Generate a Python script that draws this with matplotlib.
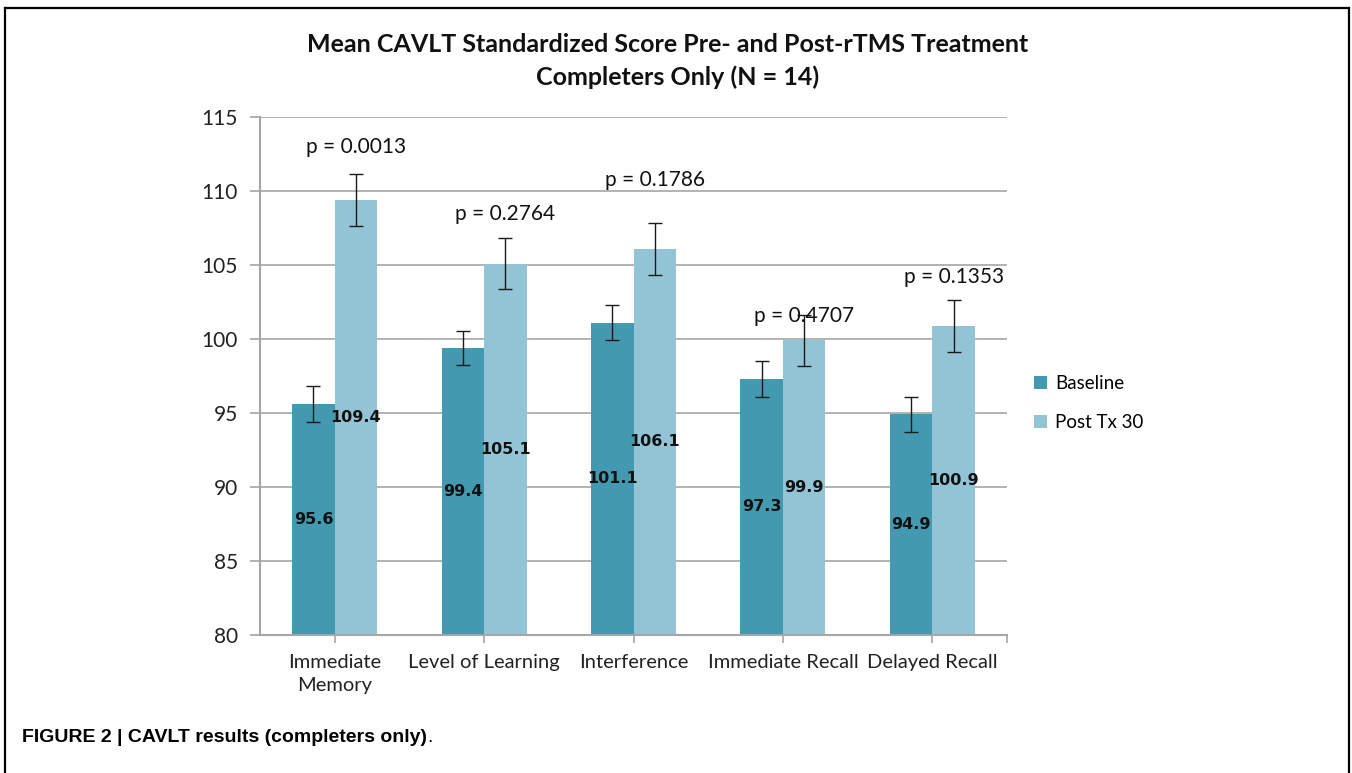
#!/usr/bin/env python
# %%
import numpy as np
import matplotlib
matplotlib.use('Agg')
import matplotlib.pyplot as plt
from matplotlib.lines import Line2D

# %%
categories = ['Immediate\nMemory', 'Level of Learning', 'Interference',
              'Immediate Recall', 'Delayed Recall']
baseline = [95.6, 99.4, 101.1, 97.3, 94.9]
post_tx = [109.4, 105.1, 106.1, 99.9, 100.9]
baseline_err = [1.2, 1.15, 1.2, 1.2, 1.15]
post_err = [1.75, 1.75, 1.75, 1.7, 1.75]
p_labels = ['p = 0.0013', 'p = 0.2764', 'p = 0.1786', 'p = 0.4707', 'p = 0.1353']
p_ypos = [113.0, 108.45, 110.75, 101.55, 104.2]   # where the p text sits (data units)
yticks = [80, 85, 90, 95, 100, 105, 110, 115]

c_base = '#4299b0'
c_post = '#93c4d6'
grid_c = '#a6a6a6'
plt.rcParams['font.family'] = ['Lato', 'DejaVu Sans']

# %%
W, H = 1352, 773
fig = plt.figure(figsize=(W/100, H/100), dpi=100)
ax = fig.add_axes([260/W, 1-635/H, (1007-260)/W, (635-117)/H])

x = np.arange(len(categories))
w = 0.285
b1 = ax.bar(x - w/2, baseline, w, color=c_base, label='Baseline', zorder=2)
b2 = ax.bar(x + w/2, post_tx, w, color=c_post, label='Post Tx 30', zorder=2)
ax.errorbar(x - w/2, baseline, yerr=baseline_err, fmt='none', ecolor='#1a1a1a',
            elinewidth=1, capsize=5, capthick=1, zorder=3)
ax.errorbar(x + w/2, post_tx, yerr=post_err, fmt='none', ecolor='#1a1a1a',
            elinewidth=1, capsize=5, capthick=1, zorder=3)

# value labels in the middle of each bar
for xs, vals in [(x - w/2, baseline), (x + w/2, post_tx)]:
    for xi, v in zip(xs, vals):
        ax.text(xi, (80 + v)/2, f'{v:.1f}', ha='center', va='center',
                fontsize=11.5, fontweight='bold', family='DejaVu Sans', color='#111111', zorder=4)

for xi, lab, yp in zip(x + w/2, p_labels, p_ypos):
    ax.text(xi, yp, lab, ha='center', va='center', fontsize=15, color='#111111')

ax.set_ylim(80, 115)
ax.set_xlim(-0.5, len(categories) - 0.5)
ax.set_yticks(yticks)
ax.yaxis.grid(True, color=grid_c, linewidth=1.2, zorder=0)
ax.set_axisbelow(True)
ax.set_xticks(list(x) + [len(categories) - 0.5])
ax.set_xticklabels(categories + [''], fontsize=14.5, linespacing=1.4)
ax.tick_params(axis='y', length=7, width=1.2, color=grid_c, labelsize=15, pad=9, labelcolor='#222222')
ax.tick_params(axis='x', length=6, width=1.2, color=grid_c, pad=8, labelcolor='#222222')
for s in ['top', 'right']:
    ax.spines[s].set_visible(False)
for s in ['left', 'bottom']:
    ax.spines[s].set_color(grid_c)
    ax.spines[s].set_linewidth(1.5)

ax.legend(loc='center left', bbox_to_anchor=(1.014, 0.448), frameon=False, fontsize=13.5,
          handlelength=0.7, handleheight=0.7, handletextpad=0.4, labelspacing=1.15)

fig.text(668/W, 1-45/H, 'Mean CAVLT Standardized Score Pre- and Post-rTMS Treatment',
         ha='center', va='center', fontsize=18, fontweight='bold', color='#111111')
fig.text(678/W, 1-77/H, 'Completers Only (N = 14)',
         ha='center', va='center', fontsize=18, fontweight='bold', color='#111111')

cap = fig.text(22/W, 1-737/H, 'FIGURE 2 | CAVLT results (completers only)', ha='left', va='center',
               fontsize=14, fontweight='bold', family='Liberation Sans')
ax.annotate('.', xy=(1, 0), xycoords=cap, va='bottom', ha='left', fontsize=14,
            family='Liberation Sans')

# outer frame of the figure panel
for xs_, ys_ in [([5, 5], [8, H]), ([5, 1349], [8, 8]), ([1349, 1349], [8, H])]:
    fig.add_artist(Line2D([v/W for v in xs_], [1 - v/H for v in ys_], color='black',
                          linewidth=1.6, transform=fig.transFigure))

fig.savefig('out.png', dpi=100)
